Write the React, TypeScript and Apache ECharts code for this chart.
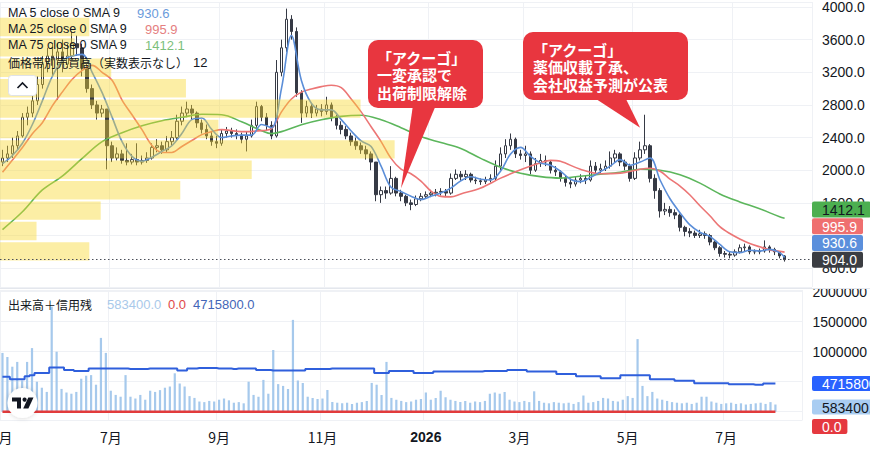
import React, { useEffect, useRef } from 'react';
import * as echarts from 'echarts';

const FONT = '"Liberation Sans", Arial, "Noto Sans CJK JP", sans-serif';
const CJK = '"Noto Sans CJK JP", "Liberation Sans", sans-serif';
const TEXT = '#131722';
const GRIDC = '#eff1f5';

// [open, close, low, high]
const candles: number[][] = [
  [2100, 2150, 2050, 2250], [2150, 2200, 2100, 2300], [2200, 2300, 2150, 2400], [2300, 2420, 2250, 2480],
  [2420, 2650, 2400, 2700], [2650, 2700, 2550, 2780], [2700, 2850, 2650, 2950], [2850, 3050, 2800, 3150],
  [3050, 3300, 3000, 3400], [3300, 3400, 3200, 3500], [3400, 3350, 3150, 3550], [3350, 3450, 2860, 3550],
  [3450, 3300, 3200, 3600], [3300, 3400, 3250, 3550], [3400, 3550, 3350, 3700], [3550, 3500, 3400, 3650],
  [3500, 3250, 3150, 3550], [3250, 3000, 2950, 3300], [3000, 2800, 2750, 3050], [2800, 2700, 2620, 2850],
  [2700, 2750, 2650, 2800], [2750, 2300, 2010, 2750], [2300, 2150, 2100, 2350], [2150, 2200, 2120, 2280],
  [2200, 2120, 2080, 2250], [2120, 2100, 2060, 2330], [2100, 2130, 2070, 2200], [2130, 2100, 2060, 2330],
  [2100, 2120, 2070, 2180], [2120, 2150, 2090, 2220], [2150, 2280, 2130, 2330], [2280, 2300, 2220, 2380],
  [2300, 2250, 2200, 2350], [2250, 2350, 2220, 2420], [2350, 2400, 2300, 2480], [2400, 2600, 2380, 2680],
  [2600, 2700, 2550, 2780], [2700, 2750, 2650, 2840], [2750, 2700, 2620, 2800], [2700, 2580, 2520, 2720],
  [2580, 2500, 2450, 2620], [2500, 2420, 2380, 2560], [2420, 2350, 2300, 2480], [2350, 2330, 2270, 2420],
  [2330, 2450, 2300, 2500], [2450, 2480, 2400, 2530], [2480, 2450, 2400, 2520], [2450, 2430, 2380, 2500],
  [2430, 2380, 2330, 2460], [2380, 2420, 2230, 2470], [2420, 2550, 2400, 2620], [2550, 2780, 2520, 2840],
  [2780, 2650, 2600, 2800], [2650, 2550, 2480, 2700], [2550, 2420, 2380, 2600], [2420, 3200, 2400, 3350],
  [3200, 3500, 3150, 3600], [3500, 3850, 3450, 3980], [3850, 3700, 3600, 3900], [3700, 2950, 2900, 3750],
  [2950, 2700, 2580, 2980], [2700, 2780, 2650, 2850], [2780, 2700, 2640, 2820], [2700, 2750, 2660, 2800],
  [2750, 2720, 2660, 2810], [2720, 2800, 2680, 2900], [2800, 2650, 2600, 2830], [2650, 2550, 2500, 2680],
  [2550, 2500, 2440, 2600], [2500, 2420, 2380, 2540], [2420, 2350, 2300, 2460], [2350, 2300, 2250, 2400],
  [2300, 2250, 2200, 2340], [2250, 2200, 2130, 2300], [2200, 2100, 2000, 2230], [2100, 1700, 1620, 2100],
  [1700, 1750, 1600, 1800], [1750, 1720, 1650, 1800], [1720, 1900, 1700, 2050], [1900, 1720, 1680, 1920],
  [1720, 1680, 1620, 1760], [1680, 1600, 1560, 1700], [1600, 1580, 1510, 1640], [1580, 1650, 1560, 1690],
  [1650, 1680, 1620, 1720], [1680, 1700, 1650, 1740], [1700, 1720, 1670, 1760], [1720, 1730, 1680, 1770],
  [1730, 1740, 1690, 1780], [1740, 1720, 1680, 1770], [1720, 1900, 1700, 1960], [1900, 1950, 1880, 2010],
  [1950, 1920, 1870, 1990], [1920, 1950, 1880, 2000], [1950, 1880, 1850, 1970], [1880, 1870, 1830, 1920],
  [1870, 1860, 1820, 1900], [1860, 1880, 1830, 1920], [1880, 1900, 1850, 1950], [1900, 2050, 1880, 2120],
  [2050, 2200, 2000, 2280], [2200, 2300, 2150, 2380], [2300, 2380, 2250, 2450], [2380, 2200, 2150, 2400],
  [2200, 2180, 2130, 2250], [2180, 2200, 2100, 2300], [2200, 2000, 1950, 2230], [2000, 2080, 1980, 2150],
  [2080, 2120, 2040, 2200], [2120, 2100, 2050, 2180], [2100, 2000, 1960, 2120], [2000, 1980, 1930, 2050],
  [1980, 1900, 1860, 2000], [1900, 1850, 1800, 1930], [1850, 1830, 1780, 1900], [1830, 1880, 1800, 1920],
  [1880, 1900, 1840, 1950], [1900, 1880, 1830, 1940], [1880, 2050, 1860, 2120], [2050, 2000, 1960, 2100],
  [2000, 2020, 1960, 2080], [2020, 2050, 1990, 2120], [2050, 2150, 2020, 2230], [2150, 2200, 2100, 2250],
  [2200, 2100, 2050, 2220], [2100, 2050, 2000, 2130], [2050, 1900, 1860, 2080], [1900, 2150, 1880, 2220],
  [2150, 2250, 2120, 2350], [2250, 2300, 2200, 2680], [2300, 1900, 1850, 2320], [1900, 1750, 1650, 1950],
  [1750, 1500, 1420, 1780], [1500, 1520, 1450, 1600], [1520, 1480, 1430, 1560], [1480, 1450, 1400, 1520],
  [1450, 1300, 1250, 1470], [1300, 1250, 1190, 1320], [1250, 1230, 1180, 1290], [1230, 1200, 1170, 1260],
  [1200, 1220, 1170, 1270], [1220, 1200, 1160, 1250], [1200, 1120, 1080, 1220], [1120, 1050, 1020, 1140],
  [1050, 980, 940, 1070], [980, 970, 930, 1010], [970, 960, 920, 1000], [960, 1000, 940, 1030],
  [1000, 1050, 980, 1090], [1050, 1060, 1010, 1100], [1060, 1000, 970, 1080], [1000, 1000, 970, 1030],
  [1000, 1010, 970, 1040], [1010, 1060, 990, 1140], [1060, 1030, 990, 1080], [1030, 1000, 960, 1050],
  [1000, 950, 920, 1010], [950, 904, 880, 960],
];

const volumes: number[] = [
  980000, 910000, 750000, 830000, 520000, 830000, 1060000, 500000, 400000, 330000,
  1750000, 1000000, 380000, 320000, 300000, 330000, 550000, 600000, 610000, 450000,
  1230000, 980000, 350000, 280000, 250000, 610000, 250000, 220000, 280000, 200000,
  350000, 330000, 360000, 400000, 420000, 640000, 470000, 420000, 260000, 230000,
  170000, 160000, 180000, 170000, 200000, 220000, 190000, 150000, 160000, 140000,
  500000, 280000, 250000, 530000, 300000, 1030000, 460000, 430000, 380000, 1530000,
  520000, 480000, 250000, 230000, 210000, 220000, 360000, 160000, 150000, 140000,
  150000, 130000, 150000, 160000, 180000, 480000, 450000, 280000, 830000, 230000,
  200000, 180000, 160000, 170000, 200000, 210000, 320000, 200000, 230000, 350000,
  240000, 200000, 180000, 160000, 180000, 150000, 170000, 160000, 180000, 300000,
  320000, 300000, 330000, 200000, 170000, 160000, 180000, 160000, 340000, 180000,
  150000, 140000, 160000, 150000, 140000, 150000, 130000, 160000, 270000, 150000,
  160000, 180000, 230000, 220000, 180000, 170000, 200000, 260000, 230000, 1210000,
  430000, 260000, 330000, 220000, 200000, 180000, 160000, 150000, 140000, 150000,
  130000, 150000, 250000, 250000, 170000, 150000, 130000, 140000, 150000, 130000,
  140000, 120000, 130000, 140000, 150000, 130000, 160000, 120000,
];

// 信用買残 (margin balance), stepped
const marginBuy: number[] = [
  4850000, 4850000, 4800000, 4800000, 4800000, 4860000, 4880000, 4920000, 4920000, 4920000,
  5030000, 5030000, 5030000, 4980000, 4980000, 4960000, 4960000, 4960000, 5010000, 5010000,
  5010000, 5010000, 5010000, 5010000, 5010000, 5010000, 5000000, 5000000, 5000000, 5000000,
  5010000, 5010000, 5010000, 5010000, 5010000, 5010000, 4970000, 4970000, 5010000, 5010000,
  5020000, 5020000, 5020000, 5020000, 5010000, 5010000, 5010000, 5000000, 5010000, 5010000,
  5010000, 5010000, 4980000, 4980000, 4980000, 4970000, 4970000, 4970000, 4970000, 4970000,
  4970000, 4970000, 5000000, 5000000, 5000000, 5000000, 5000000, 5010000, 5010000, 5010000,
  5010000, 5010000, 5010000, 5010000, 5010000, 5010000, 4920000, 4920000, 4920000, 4960000,
  4960000, 4960000, 4960000, 4960000, 4920000, 4920000, 4920000, 4920000, 4950000, 4950000,
  4950000, 4950000, 4950000, 4950000, 4950000, 4950000, 4950000, 4950000, 4960000, 4960000,
  4960000, 4960000, 4960000, 4980000, 4980000, 4980000, 4980000, 4950000, 4950000, 4950000,
  4950000, 4950000, 4950000, 4900000, 4900000, 4900000, 4900000, 4860000, 4860000, 4860000,
  4860000, 4860000, 4820000, 4820000, 4820000, 4820000, 4880000, 4880000, 4880000, 4880000,
  4880000, 4880000, 4800000, 4800000, 4800000, 4800000, 4800000, 4770000, 4770000, 4770000,
  4770000, 4720000, 4720000, 4720000, 4720000, 4720000, 4720000, 4720000, 4700000, 4700000,
  4700000, 4700000, 4700000, 4690000, 4690000, 4715800, 4715800, 4715800,
];

// moving averages: [bar index, value]
const ma5Points: number[][] = [
  [0, 2080], [2, 2180], [4, 2330], [6, 2560], [8, 2850], [10, 3150], [12, 3340], [14, 3400], [16, 3420],
  [18, 3200], [20, 2950], [22, 2650], [24, 2350], [26, 2170], [28, 2110], [30, 2160], [32, 2230],
  [34, 2300], [36, 2450], [38, 2620], [40, 2640], [42, 2500], [44, 2400], [46, 2420], [48, 2430],
  [50, 2430], [52, 2560], [54, 2520], [56, 3000], [58, 3650], [60, 3100], [62, 2820], [64, 2740],
  [66, 2740], [68, 2620], [70, 2480], [72, 2360], [74, 2290], [76, 2050], [78, 1790], [80, 1740],
  [82, 1680], [84, 1640], [86, 1680], [88, 1720], [90, 1780], [92, 1870], [94, 1920], [96, 1890],
  [98, 1880], [100, 1990], [102, 2200], [104, 2280], [106, 2170], [108, 2090], [110, 2060], [112, 1990],
  [114, 1890], [116, 1860], [118, 1910], [120, 1980], [122, 2050], [124, 2130], [126, 2060], [128, 2100],
  [130, 2150], [132, 1880], [134, 1650], [136, 1480], [138, 1330], [140, 1240], [142, 1190], [144, 1090],
  [146, 1000], [148, 990], [150, 1020], [152, 1010], [154, 1030], [156, 990], [157, 930.6],
];
const ma25Points: number[][] = [
  [0, 1976], [4, 2279], [6, 2448], [8, 2582], [10, 2788], [12, 2957], [14, 3115], [16, 3224], [18, 3285],
  [20, 3200], [22, 3103], [24, 2860], [26, 2679], [28, 2497], [30, 2303], [32, 2218], [34, 2218],
  [36, 2291], [38, 2364], [40, 2436], [42, 2473], [44, 2497], [48, 2473], [52, 2485], [54, 2509],
  [56, 2715], [58, 2873], [60, 2957], [62, 2994], [64, 3024], [66, 3042], [68, 3012], [70, 2873],
  [72, 2715], [74, 2533], [76, 2351], [78, 2145], [80, 2012], [82, 1957], [84, 1867], [86, 1745],
  [88, 1679], [90, 1673], [92, 1709], [96, 1782], [100, 1903], [104, 2006], [108, 2091], [110, 2121],
  [112, 2109], [116, 2012], [120, 1957], [124, 1964], [128, 2012], [130, 2024], [132, 1988], [134, 1891],
  [136, 1806], [138, 1697], [140, 1564], [142, 1442], [144, 1309], [146, 1224], [148, 1158], [150, 1103],
  [152, 1061], [154, 1024], [156, 1006], [157, 995.9],
];
const ma75Points: number[][] = [
  [0, 1273], [4, 1491], [8, 1758], [12, 1927], [16, 2145], [20, 2351], [24, 2460], [28, 2545], [32, 2606],
  [36, 2648], [40, 2685], [44, 2679], [48, 2594], [52, 2485], [54, 2448], [56, 2473], [60, 2557],
  [64, 2618], [68, 2660], [72, 2673], [76, 2618], [80, 2521], [84, 2412], [88, 2339], [92, 2267],
  [96, 2145], [100, 2036], [104, 1963], [108, 1921], [112, 1903], [116, 1927], [120, 1951], [124, 1976],
  [128, 2012], [132, 2000], [136, 1945], [140, 1842], [144, 1709], [148, 1612], [152, 1527], [156, 1430],
  [157, 1412.1],
];

// 価格帯別売買高: 12 rows (price low, price high, relative volume)
const profileLow = [880, 1130, 1380, 1630, 1880, 2130, 2380, 2630, 2880, 3130, 3380, 3630];
const profileHigh = [1130, 1380, 1630, 1880, 2130, 2380, 2630, 2880, 3130, 3380, 3630, 3880];
const profileVol = [11.0, 4.5, 12.4, 22.2, 31.0, 48.6, 26.9, 44.4, 22.9, 13.7, 9.2, 11.0];

// month labels on the time axis: [bar slot, label]
const monthTicks: [number, string][] = [
  [0, '5月'], [22, '7月'], [44, '9月'], [65, '11月'], [86, '2026'], [105, '3月'], [127, '5月'], [147, '7月'],
];
// price labels hidden under the value tags
const hiddenPriceLabels = [1200];
const hiddenVolumeLabels = [0, 500000];

const lastClose = 904.0;
const lastMA5 = 930.6;
const lastMA25 = 995.9;
const lastMA75 = 1412.1;
const lastVolume = 583400;
const lastSell = 0;
const lastBuy = 4715800;

const TOTAL_SLOTS = 163;

const COL = {
  ma5: '#5b8ed8',
  ma25: '#ec7676',
  ma75: '#5cb65c',
  up: '#ffffff',
  down: '#363a45',
  vol: '#a6c9ec',
  sell: '#e23b3b',
  buy: '#2f5fdc',
  callout: '#e8363f',
};

const callouts = [
  {
    box: [368, 40, 115, 68], textX: 377,
    lines: ['「アクーゴ」', '一変承認で', '出荷制限解除'],
    base: [413, 436], tipBar: 80, tipPrice: 1780,
  },
  {
    box: [523, 32, 165, 68], textX: 533,
    lines: ['「アクーゴ」', '薬価収載了承、', '会社収益予測が公表'],
    base: [593, 625], tipBar: 128, tipPrice: 2520,
  },
];

function toFull(points: number[][]): (number | null)[] {
  const arr: (number | null)[] = candles.map(() => null);
  points.forEach(([i, v]) => { arr[i] = v; });
  return arr;
}

const tickMap = new Map<number, string>(monthTicks);
const isTick = (i: number) => tickMap.has(i);
const firstTick = monthTicks[0][0];

function buildOption(): any {
  const cats = Array.from({ length: TOTAL_SLOTS }, (_, i) => 'd' + i);
  const maSeries = (name: string, pts: number[][], color: string) => ({
    name, type: 'line', xAxisIndex: 0, yAxisIndex: 0, data: toFull(pts), connectNulls: true,
    smooth: 0.35, showSymbol: false, symbol: 'none', z: 3, silent: true,
    lineStyle: { color, width: 1.6 },
  });
  return {
    animation: false,
    backgroundColor: '#ffffff',
    grid: [
      { left: -5, right: 58, top: 0, height: 287 },
      { left: -5, right: 58, top: 290, height: 130 },
    ],
    xAxis: [
      {
        type: 'category', gridIndex: 0, data: cats, boundaryGap: true,
        axisLine: { show: false }, axisTick: { show: false }, axisLabel: { show: false },
        splitLine: { show: true, interval: (i: number) => isTick(i), lineStyle: { color: GRIDC, width: 1 } },
      },
      {
        type: 'category', gridIndex: 1, data: cats, boundaryGap: true,
        axisLine: { show: false }, axisTick: { show: false },
        axisLabel: {
          show: true, interval: (i: number) => isTick(i) && i !== firstTick, color: TEXT, fontSize: 14, fontFamily: CJK, margin: 10,
          formatter: (_v: string, i: number) => {
            const l = tickMap.get(i) || '';
            return /^\d{4}$/.test(l) ? '{b|' + l + '}' : l;
          },
          rich: { b: { fontWeight: 'bold', fontSize: 14, color: TEXT, fontFamily: FONT } },
        },
        splitLine: { show: true, interval: (i: number) => isTick(i), lineStyle: { color: GRIDC, width: 1 } },
      },
      { type: 'value', gridIndex: 0, min: 0, max: 100, show: false },
    ],
    yAxis: [
      {
        type: 'value', gridIndex: 0, position: 'right', min: 569, max: 4061,
        minInterval: 400, maxInterval: 400,
        axisLine: { show: false }, axisTick: { show: false },
        axisLabel: {
          color: TEXT, fontSize: 14, fontFamily: FONT, margin: 10, showMinLabel: false, showMaxLabel: false,
          formatter: (v: number) => (hiddenPriceLabels.includes(v) ? '' : v.toFixed(1)),
        },
        splitLine: { show: true, lineStyle: { color: GRIDC, width: 1 } },
      },
      {
        type: 'value', gridIndex: 1, position: 'right', min: -138000, max: 2028000,
        minInterval: 500000, maxInterval: 500000,
        axisLine: { show: false }, axisTick: { show: false },
        axisLabel: {
          color: TEXT, fontSize: 14, fontFamily: FONT, margin: 10, showMinLabel: false, showMaxLabel: false,
          formatter: (v: number) => (v <= 0 || hiddenVolumeLabels.includes(v) ? '' : String(v)),
        },
        splitLine: { show: true, lineStyle: { color: GRIDC, width: 1 } },
      },
      { type: 'value', gridIndex: 1, position: 'right', min: 4000000, max: 6550000, show: false },
    ],
    series: [
      {
        name: 'price', type: 'candlestick', xAxisIndex: 0, yAxisIndex: 0, data: candles,
        barWidth: '60%', z: 2,
        itemStyle: {
          color: COL.up, color0: COL.down, borderColor: COL.down, borderColor0: COL.down, borderWidth: 1,
        },
        markLine: {
          silent: true, symbol: ['none', 'none'], label: { show: false },
          lineStyle: { color: '#4a4e58', type: [1.5, 2.5], width: 1 },
          data: [{ yAxis: lastClose }],
        },
      },
      maSeries('MA75', ma75Points, COL.ma75),
      maSeries('MA25', ma25Points, COL.ma25),
      maSeries('MA5', ma5Points, COL.ma5),
      {
        name: 'profile', type: 'custom', xAxisIndex: 2, yAxisIndex: 0, z: 4, silent: true,
        data: profileLow.map((lo, i) => [lo, profileHigh[i], profileVol[i]]),
        encode: { x: 2, y: [0, 1] },
        renderItem: (_p: any, api: any) => {
          const lo = api.value(0), hi = api.value(1), v = api.value(2);
          const a = api.coord([0, hi]);
          const b = api.coord([v, lo]);
          return {
            type: 'rect',
            shape: { x: a[0], y: a[1] + 1, width: b[0] - a[0], height: b[1] - a[1] - 2 },
            style: { fill: 'rgba(248, 214, 40, 0.42)' },
          };
        },
      },
      {
        name: 'volume', type: 'bar', xAxisIndex: 1, yAxisIndex: 1, data: volumes, barWidth: '45%',
        itemStyle: { color: COL.vol }, z: 2, silent: true,
      },
      {
        name: 'sell', type: 'line', xAxisIndex: 1, yAxisIndex: 1, data: candles.map(() => lastSell),
        showSymbol: false, symbol: 'none', lineStyle: { color: COL.sell, width: 2.5 }, z: 3, silent: true,
      },
      {
        name: 'buy', type: 'line', xAxisIndex: 1, yAxisIndex: 2, data: marginBuy, step: 'middle',
        showSymbol: false, symbol: 'none', lineStyle: { color: COL.buy, width: 2 }, z: 3, silent: true,
      },
    ],
  };
}

function buildGraphics(chart: any): any[] {
  const out: any[] = [];
  const RIGHT = 812;
  const yPx = (axis: number, v: number) => chart.convertToPixel({ yAxisIndex: axis }, v) as number;
  const xPx = (i: number) => chart.convertToPixel({ xAxisIndex: 0 }, i) as number;

  const tag = (y: number, text: string, bg: string, fg: string, h: number) => ({
    type: 'group', z: 100, children: [
      { type: 'rect', z: 100, shape: { x: RIGHT, y: y - h / 2, width: text.length * 7.8 + 12, height: h, r: 2 }, style: { fill: bg } },
      { type: 'text', z: 101, style: { x: RIGHT + 10, y: y + 0.5, text, fill: fg, fontSize: 14, fontFamily: FONT, verticalAlign: 'middle', align: 'left' } },
    ],
  });

  // cover to clip top of volume pane label
  out.push({ type: 'rect', z: 90, shape: { x: RIGHT + 1, y: 277, width: 60, height: 11.5 }, style: { fill: '#ffffff' } });
  out.push({ type: 'line', z: 91, shape: { x1: 0, y1: 288.5, x2: 870, y2: 288.5 }, style: { stroke: '#e4e7ed', lineWidth: 1 } });

  // first month label, mostly off the left edge
  const firstLabel = monthTicks[0][1];
  out.push({
    type: 'text', z: 60,
    style: { x: xPx(firstTick) - 1, y: 437, text: firstLabel, fill: TEXT, fontSize: 14, fontFamily: CJK, align: 'center', verticalAlign: 'middle' },
  });

  // price tags stacked upward
  const pTags = [
    { v: lastClose, t: lastClose.toFixed(1), bg: '#3b3d42', fg: '#ffffff' },
    { v: lastMA5, t: lastMA5.toFixed(1), bg: '#5b8fdc', fg: '#ffffff' },
    { v: lastMA25, t: lastMA25.toFixed(1), bg: '#ef6f6f', fg: '#ffffff' },
    { v: lastMA75, t: lastMA75.toFixed(1), bg: '#4caf50', fg: TEXT },
  ];
  let prev = NaN;
  pTags.forEach((p) => {
    let y = yPx(0, p.v);
    if (!isNaN(prev)) y = Math.min(y, prev - 16.7);
    prev = y;
    out.push(tag(y, p.t, p.bg, p.fg, 16));
  });

  // volume pane tags stacked downward
  const yb = yPx(2, lastBuy);
  const yv = Math.max(yPx(1, lastVolume), yb + 23.5);
  const ys = Math.max(yPx(1, lastSell), yv + 19.5);
  out.push(tag(yb, lastBuy.toFixed(1), '#2962ff', '#ffffff', 15));
  out.push(tag(yv, lastVolume.toFixed(1), '#a9cdf2', TEXT, 15));
  out.push(tag(ys, lastSell.toFixed(1), '#e5393f', '#ffffff', 15));

  // legends: label at the left, value at its own column
  const legendRow = (y: number, label: string, value: string, color: string, valueX: number, size: number, fam: string) => {
    out.push({ type: 'text', z: 60, style: { x: 8, y, text: label, fill: TEXT, fontSize: size, fontFamily: fam, verticalAlign: 'middle', align: 'left' } });
    out.push({ type: 'text', z: 60, style: { x: valueX, y, text: value, fill: color, fontSize: 13, fontFamily: FONT, verticalAlign: 'middle', align: 'left' } });
  };
  legendRow(13, 'MA 5 close 0 SMA 9', lastMA5.toFixed(1), '#6b9bdb', 137, 12.5, FONT);
  legendRow(29, 'MA 25 close 0 SMA 9', lastMA25.toFixed(1), '#e58080', 145, 12.5, FONT);
  legendRow(45, 'MA 75 close 0 SMA 9', lastMA75.toFixed(1), '#7cbf7c', 145, 12.5, FONT);
  legendRow(62, '価格帯別売買高（実数表示なし）', String(profileLow.length), TEXT, 193, 12, CJK);
  legendRow(304, '出来高＋信用残', lastVolume.toFixed(1), '#a9c9ea', 107, 12, CJK);
  out.push({ type: 'text', z: 60, style: { x: 168, y: 304, text: lastSell.toFixed(1), fill: '#e04848', fontSize: 13, fontFamily: FONT, verticalAlign: 'middle', align: 'left' } });
  out.push({ type: 'text', z: 60, style: { x: 193, y: 304, text: lastBuy.toFixed(1), fill: '#4366b8', fontSize: 13, fontFamily: FONT, verticalAlign: 'middle', align: 'left' } });

  // collapse button
  out.push({ type: 'rect', z: 60, shape: { x: 8.5, y: 75.5, width: 28, height: 20, r: 3 }, style: { fill: '#ffffff', stroke: '#dfe2e8', lineWidth: 1 } });
  out.push({ type: 'polyline', z: 61, shape: { points: [[17.5, 88], [22.5, 83], [27.5, 88]] }, style: { stroke: TEXT, lineWidth: 1.7, fill: 'none' } });

  // callouts
  callouts.forEach((c) => {
    const [bx, by, bw, bh] = c.box;
    const tx = xPx(c.tipBar);
    const ty = yPx(0, c.tipPrice);
    out.push({
      type: 'polygon', z: 70,
      shape: { points: [[c.base[0], by + bh - 3], [c.base[1], by + bh - 3], [tx, ty]] },
      style: { fill: COL.callout },
    });
    out.push({ type: 'rect', z: 70, shape: { x: bx, y: by, width: bw, height: bh, r: 10 }, style: { fill: COL.callout } });
    out.push({
      type: 'text', z: 71,
      style: {
        x: c.textX, y: by + bh / 2 + 0.5, text: c.lines.join('\n'), fill: '#ffffff', fontSize: 15, fontWeight: 'bold',
        lineHeight: 17.5, fontFamily: CJK, verticalAlign: 'middle', align: 'left',
      },
    });
  });

  // TradingView badge
  out.push({
    type: 'group', z: 80, children: [
      { type: 'circle', z: 80, shape: { cx: 22.5, cy: 403, r: 15 }, style: { fill: '#ffffff', shadowBlur: 5, shadowColor: 'rgba(0,0,0,0.18)' } },
      { type: 'polygon', z: 81, shape: { points: [[12, 397.5], [21, 397.5], [21, 408.5], [17, 408.5], [17, 401.5], [12, 401.5]] }, style: { fill: TEXT } },
      { type: 'circle', z: 81, shape: { cx: 24.6, cy: 399.6, r: 2.1 }, style: { fill: TEXT } },
      { type: 'polygon', z: 81, shape: { points: [[28.3, 397.5], [33.5, 397.5], [28.4, 408.5], [23.2, 408.5]] }, style: { fill: TEXT } },
    ],
  });
  return out;
}

export default function App() {
  const ref = useRef<HTMLDivElement>(null);
  useEffect(() => {
    document.body.style.margin = '0';
    const el = ref.current;
    if (!el) return;
    const chart = echarts.init(el, null, { renderer: 'svg' });
    chart.setOption(buildOption());
    chart.setOption({ graphic: buildGraphics(chart) });
    return () => chart.dispose();
  }, []);
  return <div ref={ref} style={{ width: 870, height: 453 }} />;
}
